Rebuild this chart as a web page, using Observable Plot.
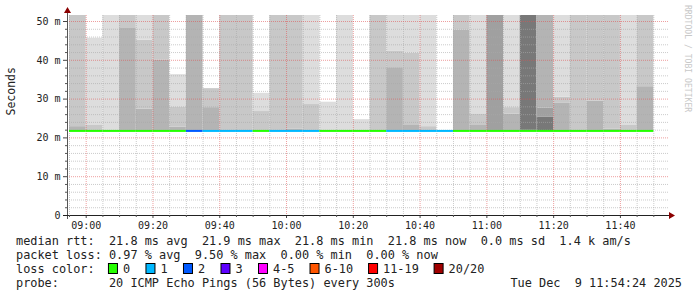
<!DOCTYPE html>
<html><head><meta charset="utf-8">
<script src="https://cdn.jsdelivr.net/npm/d3@7"></script>
<script src="https://cdn.jsdelivr.net/npm/@observablehq/plot@0.6"></script>
<style>html,body{margin:0;padding:0;background:#fff;} svg{display:block}</style>
</head><body><div id="chart"></div>
<script>
// ---- data ----
const slotStart = ["08:55","09:00","09:05","09:10","09:15","09:20","09:25","09:30","09:35","09:40",
  "09:45","09:50","09:55","10:00","10:05","10:10","10:15","10:20","10:25","10:30",
  "10:35","10:40","10:45","10:50","10:55","11:00","11:05","11:10","11:15","11:20",
  "11:25","11:30","11:35","11:40","11:45"];
const medianMs = [21.8,21.8,21.8,21.8,21.8,21.8,21.8,21.8,21.8,21.8,
  21.8,21.8,21.8,21.8,21.8,21.8,21.8,21.8,21.8,21.8,
  21.8,21.8,21.8,21.8,21.8,21.8,21.8,21.8,21.8,21.8,
  21.8,21.8,21.8,21.8,21.8];
const lossCount = [0,0,0,0,0,0,0,2,1,1, 1,0,1,1,1,0,0,0,0,1, 1,1,1,0,0,0,0,0,0,0, 0,0,0,0,0];
// smoke bands, bottom-up: [top of band in ms, shade]
const smokeBands = [
  [[22.9,"D"],[51.6,"M"]],
  [[23.2,"M"],[45.7,"L"]],
  [[51.6,"L"]],
  [[48.2,"D"],[51.6,"M"]],
  [[27.4,"D"],[45.2,"M"],[51.6,"L"]],
  [[40.0,"D"],[51.6,"M"]],
  [[22.8,"D"],[28.0,"M"],[36.3,"L"]],
  [[51.6,"D"]],
  [[27.8,"D"],[32.7,"M"]],
  [[51.6,"M"]],
  [[51.6,"M"]],
  [[26.8,"M"],[31.5,"L"]],
  [[51.6,"M"]],
  [[22.3,"D"],[51.6,"M"]],
  [[28.6,"M"],[51.6,"L"]],
  [[29.2,"L"]],
  [[51.6,"L"]],
  [[24.7,"L"]],
  [[51.6,"M"]],
  [[38.1,"D"],[42.3,"M"],[51.6,"L"]],
  [[23.2,"D"],[41.8,"M"],[51.6,"L"]],
  [[22.9,"M"],[51.6,"L"]],
  [],
  [[47.8,"D"],[51.6,"M"]],
  [[23.2,"D"],[26.2,"M"],[51.6,"L"]],
  [[51.6,"D2"]],
  [[26.1,"D"],[27.8,"M"],[51.6,"L"]],
  [[22.1,"K2"],[51.6,"K"]],
  [[25.4,"K"],[27.7,"D2"],[51.6,"D"]],
  [[28.9,"D"],[30.5,"M"],[51.6,"L"]],
  [[51.6,"M"]],
  [[29.5,"D"],[51.6,"M"]],
  [[22.3,"D"],[51.6,"M"]],
  [[23.2,"M"],[51.6,"L"]],
  [[33.2,"D"],[51.6,"M"]]
];
const yMajor = [0,10,20,30,40,50];
const yMinor = [2,4,6,8,12,14,16,18,22,24,26,28,32,34,36,38,42,44,46,48];
const xMajor = ["09:00","09:20","09:40","10:00","10:20","10:40","11:00","11:20","11:40"];
const lossLabels = ["0","1","2","3","4-5","6-10","11-19","20/20"];
const lossColors = ["#26ff00","#00b8ff","#0059ff","#5e00ff","#ff00ff","#ff5500","#ff0000","#a00000"];
const rttStats = ["21.8 ms avg","21.9 ms max","21.8 ms min","21.8 ms now","0.0 ms sd","1.4 k am/s"];
const lossStats = ["0.97 % avg","9.50 % max","0.00 % min","0.00 % now"];
const probeText = "20 ICMP Echo Pings (56 Bytes) every 300s";
const stampText = "Tue Dec  9 11:54:24 2025";
const rangeStart = "08:54:24", rangeEnd = "11:54:24";

// ---- styles ----
const shadeColor = {L:"#dddddd", M:"#c8c8c8", D:"#b4b4b4", D2:"#a0a0a0", K:"#787878", K2:"#6c6c6c"};
const FONT = "DejaVu Sans Mono";

const T = s => { const [h,m,sec] = s.split(":").map(Number); return new Date(Date.UTC(2025,11,9,h,m,sec||0)); };
const plus5 = d => new Date(+d + 5*60000);
const lossIndex = n => n <= 3 ? n : n <= 5 ? 4 : n <= 10 ? 5 : n <= 19 ? 6 : 7;

const bands = [];
slotStart.forEach((t,i) => {
  let lo = medianMs[i];
  smokeBands[i].forEach(([top, s]) => {
    bands.push({x1: T(t), x2: plus5(T(t)), y1: lo, y2: top, fill: shadeColor[s]});
    lo = top;
  });
});
const medians = slotStart.map((t,i) => ({x1: T(t), x2: plus5(T(t)), y: medianMs[i], stroke: lossColors[lossIndex(lossCount[i])]}));
const xMinor = slotStart.map(T).concat([plus5(T(slotStart[slotStart.length-1]))]).filter(d => !xMajor.map(s=>+T(s)).includes(+d));

const chart = Plot.plot({
  width: 697, height: 297,
  marginLeft: 67, marginRight: 29, marginTop: 15, marginBottom: 82,
  style: {fontFamily: FONT, fontSize: "10px", background: "#fff", overflow: "visible", color: "#222"},
  x: {type: "utc", domain: [T(rangeStart), T(rangeEnd)]},
  y: {domain: [0, 51.55]},
  color: {type: "identity"},
  marks: [
    Plot.rect(bands, {x1: "x1", x2: "x2", y1: "y1", y2: "y2", fill: "fill", clip: true}),
    Plot.ruleY(yMinor, {stroke: "#a8a8a8", strokeOpacity: 0.6, strokeDasharray: "1,1"}),
    Plot.ruleX(xMinor, {stroke: "#a8a8a8", strokeOpacity: 0.6, strokeDasharray: "1,1"}),
    Plot.ruleY(yMajor.filter(d => d > 0), {stroke: "#e05050", strokeOpacity: 0.55, strokeDasharray: "1,1"}),
    Plot.ruleX(xMajor.map(T), {stroke: "#e05050", strokeOpacity: 0.55, strokeDasharray: "1,1"}),
    Plot.ruleY(medians, {x1: "x1", x2: "x2", y: "y", stroke: "stroke", strokeWidth: 2}),
    Plot.axisY({ticks: yMajor, tickFormat: d => d === 0 ? "0" : `${d} m`, tickSize: 4, tickPadding: 3, label: null, stroke: "#444"}),
    Plot.axisX({ticks: xMajor.map(T), tickFormat: d3.utcFormat("%H:%M"), tickSize: 3, tickPadding: 3, label: null, stroke: "#444"}),
    Plot.text(["Seconds"], {frameAnchor: "left", dx: -56, rotate: -90, fontSize: 11.5, fill: "#222"})
  ]
});

const svg = d3.select(chart);
const xs = chart.scale("x"), ys = chart.scale("y");
const X0 = xs.range[0], X1 = xs.range[1], Y0 = ys.range[0], Y1 = ys.range[1];
const g = svg.append("g").attr("font-family", FONT).attr("fill", "#222").attr("text-anchor", "start");
// axes lines + arrows
g.append("line").attr("x1", X0 + 0.5).attr("x2", X0 + 0.5).attr("y1", Y0 + 4).attr("y2", Y1 - 6).attr("stroke", "#555");
g.append("line").attr("x1", X0 - 4).attr("x2", X1 + 2).attr("y1", Y0 + 0.5).attr("y2", Y0 + 0.5).attr("stroke", "#222");
g.append("path").attr("d", `M${X0+0.5},${Y1-8}l-3.5,6h7z`).attr("fill", "#8b0000");
g.append("path").attr("d", `M${X1+7},${Y0+0.5}l-6,-3.5v7z`).attr("fill", "#8b0000");
yMinor.forEach(v => g.append("line").attr("x1", X0 - 2).attr("x2", X0).attr("y1", ys.apply(v) + 0.5).attr("y2", ys.apply(v) + 0.5).attr("stroke", "#555"));
xMinor.forEach(d => g.append("line").attr("x1", xs.apply(d) + 0.5).attr("x2", xs.apply(d) + 0.5).attr("y1", Y0).attr("y2", Y0 + 2).attr("stroke", "#555"));

// watermark
g.append("text").attr("transform", "translate(685,5) rotate(90)").attr("font-size", 8.1).attr("fill", "#c8c8c8").text("RRDTOOL / TOBI OETIKER");

document.getElementById("chart").append(chart);

// legend
const FS = 11.88, LX = 16, CW = 7.15, rows = [241, 255, 269, 283];
const addText = (x, y, s, anchor) => g.append("text").attr("x", x).attr("y", y).attr("dy", "0.35em")
  .attr("font-size", FS).attr("text-anchor", anchor || "start").style("white-space", "pre").text(s);
addText(LX, rows[0], "median rtt:  " + rttStats.join("  "));
addText(LX, rows[1], "packet loss: " + lossStats.join("  "));
addText(LX, rows[2], "loss color:");
addText(LX, rows[3], "probe:");
addText(LX + 13 * CW, rows[3], probeText);
addText(682, rows[3], stampText, "end");
let cx = LX + 13 * CW - 1;
lossLabels.forEach((lab, i) => {
  g.append("rect").attr("x", cx + 0.5).attr("y", rows[2] - 5.5).attr("width", 9).attr("height", 10)
    .attr("fill", lossColors[i]).attr("stroke", "#000");
  const t = addText(cx + 15, rows[2], lab);
  cx = cx + 15 + t.node().getComputedTextLength() * 0.98 + 15.5;
});
</script></body></html>
